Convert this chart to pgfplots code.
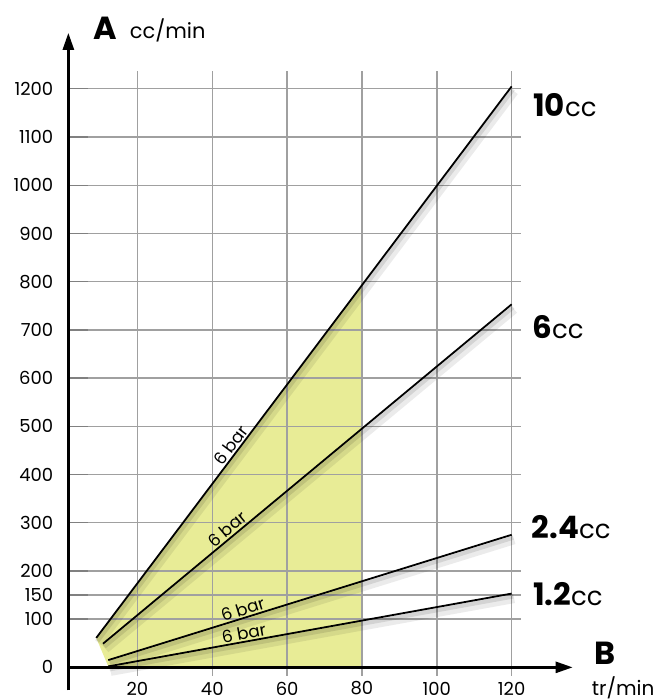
\documentclass[border=0pt]{standalone}
\usepackage{pgfplots}
\pgfplotsset{compat=1.18}
\usetikzlibrary{arrows.meta}
\usepackage{fontspec}
\setmainfont{Poppins}
\definecolor{fillyel}{RGB}{232,236,150}
\definecolor{gridgray}{RGB}{160,160,160}
\newcommand{\serlab}[2]{{\fontsize{31}{31}\selectfont\bfseries #1}{\fontsize{26}{26}\selectfont #2}}
\begin{document}
\begin{tikzpicture}
\begin{axis}[
 x=3.75pt, y=0.4831pt,
 xmin=1.55, xmax=136.3, ymin=-48, ymax=1316,
 axis lines*=left,
 axis line style={draw=none},
 clip=false,
 xtick={20,40,60,80,100,120},
 ytick={0,100,150,200,300,400,500,600,700,800,900,1000,1100,1200},
 major tick length=0pt,
 tick style={draw=none},
 ticklabel style={font=\fontsize{18}{18}\selectfont, inner sep=0pt},
 /pgf/number format/assume math mode=true,
 /pgf/number format/1000 sep={},
 xticklabel style={anchor=center, yshift=2pt},
 yticklabel style={anchor=east, xshift=-15pt},
]
% bounding box of the whole picture
\path (axis cs:-16.72,-62.7) rectangle (axis cs:156.88,1384.2);
% yellow area
\addplot[fill=fillyel, draw=none] coordinates {(9,61) (80,793) (80,0) (12.5,0) (12.2,2)} -- cycle;
% grid
\pgfplotsinvokeforeach{20,40,60,80,100,120}{
  \draw[gridgray, line width=1.4pt] (axis cs:#1,-17) -- (axis cs:#1,1237);
}
\pgfplotsinvokeforeach{100,150,200,300,400,500,600,700,800,900,1000,1100,1200}{
  \draw[gridgray, line width=1.4pt] (axis cs:1.55,#1) -- (axis cs:122.4,#1);
  \draw[gray, line width=1.4pt] (axis cs:1.55,#1) -- (axis cs:6.9,#1);
}
% shadows
\addplot[black, opacity=0.08, line width=9pt, xshift=2.5pt, yshift=-5pt] coordinates {(9,61) (120,1205)};
\addplot[black, opacity=0.08, line width=9pt, xshift=2.5pt, yshift=-5pt] coordinates {(10.8,49) (120,753)};
\addplot[black, opacity=0.08, line width=9pt, xshift=2.5pt, yshift=-5pt] coordinates {(12.2,15) (120,275)};
\addplot[black, opacity=0.08, line width=9pt, xshift=2.5pt, yshift=-5pt] coordinates {(12.2,2) (120,153)};
\addplot[black, opacity=0.1, line width=4pt, xshift=1.5pt, yshift=-3pt] coordinates {(9,61) (120,1205)};
\addplot[black, opacity=0.1, line width=4pt, xshift=1.5pt, yshift=-3pt] coordinates {(10.8,49) (120,753)};
\addplot[black, opacity=0.1, line width=4pt, xshift=1.5pt, yshift=-3pt] coordinates {(12.2,15) (120,275)};
\addplot[black, opacity=0.1, line width=4pt, xshift=1.5pt, yshift=-3pt] coordinates {(12.2,2) (120,153)};
% lines
\addplot[black, line width=1.8pt] coordinates {(9,61) (120,1205)}
  node[pos=0.34, sloped, above, inner sep=1.5pt, font=\fontsize{17}{17}\selectfont] {6 bar};
\addplot[black, line width=1.8pt] coordinates {(10.8,49) (120,753)}
  node[pos=0.318, sloped, above, inner sep=1.5pt, font=\fontsize{17}{17}\selectfont] {6 bar};
\addplot[black, line width=1.8pt] coordinates {(12.2,15) (120,275)}
  node[pos=0.34, sloped, above, inner sep=1.5pt, font=\fontsize{17}{17}\selectfont] {6 bar};
\addplot[black, line width=1.8pt] coordinates {(12.2,2) (120,153)}
  node[pos=0.34, sloped, above, inner sep=1.5pt, font=\fontsize{17}{17}\selectfont] {6 bar};
% axes
\draw[line width=2.6pt, -{Triangle[length=17pt,width=11pt]}] (axis cs:1.55,-48) -- (axis cs:1.55,1316);
\draw[line width=2.6pt, -{Triangle[length=17pt,width=11pt]}] (axis cs:1.55,0) -- (axis cs:136.3,0);
% axis titles
\node[anchor=base west, inner sep=0pt, font=\fontsize{32}{32}\selectfont\bfseries] at (axis cs:8.16,1301.4) {A};
\node[anchor=base west, inner sep=0pt, font=\fontsize{21}{21}\selectfont] at (axis cs:17.95,1304.9) {cc/min};
\node[anchor=base west, inner sep=0pt, font=\fontsize{32}{32}\selectfont\bfseries] at (axis cs:142.2,5.6) {B};
\node[anchor=base west, inner sep=0pt, font=\fontsize{20}{20}\selectfont] at (axis cs:141.4,-58.6) {tr/min};
% series labels
\node[anchor=base west, inner sep=0pt] at (axis cs:125.7,1142.6) {\serlab{10}{cc}};
\node[anchor=base west, inner sep=0pt] at (axis cs:125.5,681.8) {\serlab{6}{cc}};
\node[anchor=base west, inner sep=0pt] at (axis cs:125.3,266.4) {\serlab{2.4}{cc}};
\node[anchor=base west, inner sep=0pt] at (axis cs:125.7,128.3) {\serlab{1.2}{cc}};
\end{axis}
\end{tikzpicture}
\end{document}
